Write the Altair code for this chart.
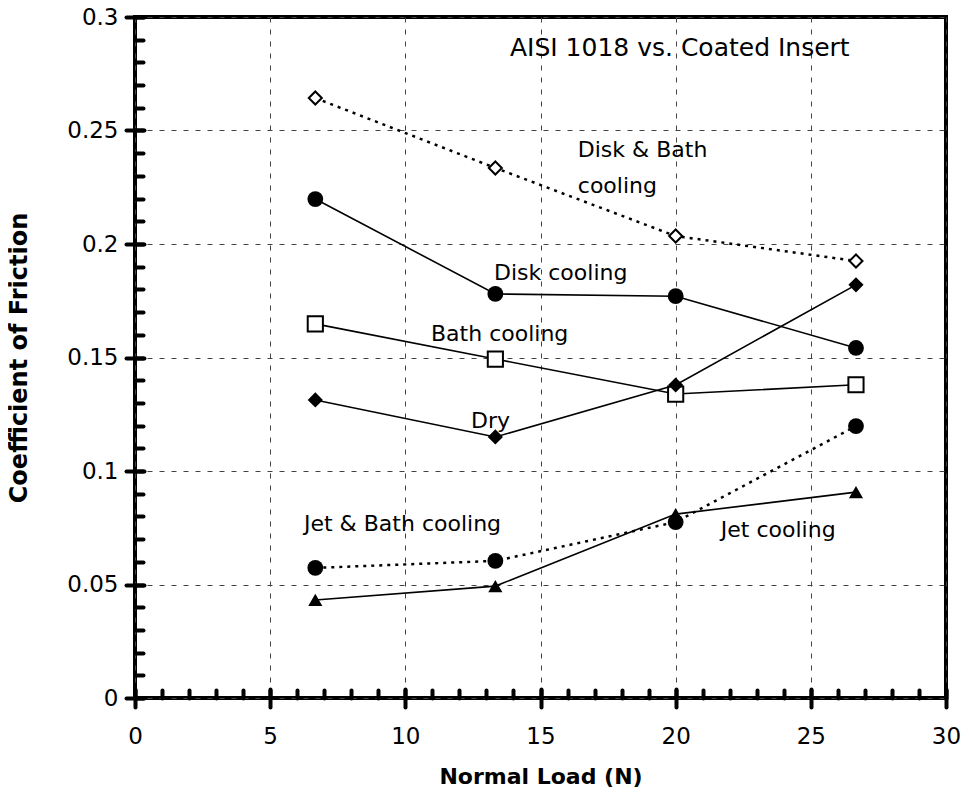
import altair as alt
import pandas as pd

# ---- data ----
loads = [6.67, 13.33, 20.0, 26.67]
disk_bath = [0.2643, 0.2335, 0.2035, 0.1925]
disk = [0.2198, 0.178, 0.177, 0.1542]
bath = [0.1648, 0.1493, 0.1339, 0.138]
dry = [0.1313, 0.115, 0.1379, 0.182]
jet_bath = [0.0573, 0.0604, 0.0775, 0.1198]
jet = [0.0432, 0.0493, 0.081, 0.0907]

series_names = ["Disk & Bath cooling", "Disk cooling", "Bath cooling", "Dry",
                "Jet & Bath cooling", "Jet cooling"]
series_values = [disk_bath, disk, bath, dry, jet_bath, jet]

title_text = ["AISI 1018 vs. Coated Insert"]
title_x = [13.87]
title_y = [0.2863]

ann_text = ["Disk & Bath", "cooling", "Disk cooling",
            "Bath cooling", "Dry", "Jet & Bath cooling", "Jet cooling"]
ann_x = [16.38, 16.38, 13.28, 10.95, 12.43, 6.25, 21.67]
ann_y = [0.2414, 0.2256, 0.1872, 0.1604, 0.122, 0.0767, 0.074]

x_major = [0, 5, 10, 15, 20, 25, 30]
y_major = [0, 0.05, 0.1, 0.15, 0.2, 0.25, 0.3]
x_minor = list(range(0, 31))
y_minor = [round(i * 0.01, 2) for i in range(0, 31)]

# ---- styles ----
styles = {
    "Disk & Bath cooling": dict(shape="diamond", filled=False, size=170, dash=[3, 5], lw=2.5),
    "Disk cooling": dict(shape="circle", filled=True, size=250, dash=None, lw=1.6),
    "Bath cooling": dict(shape="square", filled=False, size=230, dash=None, lw=1.6),
    "Dry": dict(shape="diamond", filled=True, size=230, dash=None, lw=1.6),
    "Jet & Bath cooling": dict(shape="circle", filled=True, size=250, dash=[3, 5], lw=2.5),
    "Jet cooling": dict(shape="triangle-up", filled=True, size=200, dash=None, lw=1.6),
}

rows = []
for name, vals in zip(series_names, series_values):
    for x, y in zip(loads, vals):
        rows.append({"series": name, "load": x, "cof": y})
df = pd.DataFrame(rows)
ann_df = pd.DataFrame({"text": ann_text, "x": ann_x, "y": ann_y})
title_df = pd.DataFrame({"text": title_text, "x": title_x, "y": title_y})

FONT = "DejaVu Sans"
xscale = alt.Scale(domain=[0, 30], nice=False, zero=False)
yscale = alt.Scale(domain=[0, 0.3], nice=False, zero=False)

base = alt.Chart(df)

# grid layer
grid_layer = base.mark_point(opacity=0).encode(
    x=alt.X("load:Q", scale=xscale, axis=alt.Axis(
        orient="bottom", values=x_major, grid=True, ticks=False, labels=False,
        domain=False, title=None, gridDash=[5, 7], gridColor="#444", gridWidth=1)),
    y=alt.Y("cof:Q", scale=yscale, axis=alt.Axis(
        orient="left", values=y_major, grid=True, ticks=False, labels=False,
        domain=False, title=None, gridDash=[5, 7], gridColor="#444", gridWidth=1)),
)

# minor ticks layer (inward)
minor_layer = base.mark_point(opacity=0).encode(
    x=alt.X("load:Q", scale=xscale, axis=alt.Axis(
        orient="bottom", values=x_minor, grid=False, labels=False, domain=False,
        title=None, ticks=True, tickSize=8, offset=-8, tickWidth=4, tickCap="round",
        tickColor="black")),
    y=alt.Y("cof:Q", scale=yscale, axis=alt.Axis(
        orient="left", values=y_minor, grid=False, labels=False, domain=False,
        title=None, ticks=True, tickSize=8, offset=-8, tickWidth=4, tickCap="round",
        tickColor="black")),
)

# major ticks + labels + titles
major_layer = base.mark_point(opacity=0).encode(
    x=alt.X("load:Q", scale=xscale, axis=alt.Axis(
        orient="bottom", values=x_major, grid=False, domain=False, format="d",
        ticks=True, tickSize=18, offset=-9, tickWidth=4, tickCap="round", tickColor="black",
        labelFont=FONT, labelFontSize=23, labelColor="black", labelPadding=18,
        labelFlush=False,
        title="Normal Load (N)", titleFont=FONT, titleFontSize=22, titleFontWeight="bold",
        titleColor="black", titlePadding=18)),
    y=alt.Y("cof:Q", scale=yscale, axis=alt.Axis(
        orient="left", values=y_major, grid=False, domain=False, format="~g",
        ticks=True, tickSize=18, offset=-9, tickWidth=4, tickCap="round", tickColor="black",
        labelFont=FONT, labelFontSize=23, labelColor="black", labelPadding=8,
        labelFlush=False,
        title="Coefficient of Friction", titleFont=FONT, titleFontSize=24,
        titleFontWeight="bold", titleColor="black", titlePadding=35)),
)

layers = [grid_layer, minor_layer, major_layer]

for name in series_names:
    st = styles[name]
    sub = base.transform_filter(alt.datum.series == name)
    line_kwargs = dict(color="black", strokeWidth=st["lw"])
    if st["dash"]:
        line_kwargs["strokeDash"] = st["dash"]
    line = sub.mark_line(**line_kwargs).encode(
        x=alt.X("load:Q", scale=xscale, axis=None),
        y=alt.Y("cof:Q", scale=yscale, axis=None),
    )
    pt_kwargs = dict(shape=st["shape"], size=st["size"], filled=st["filled"],
                     color="black", opacity=1, strokeWidth=2)
    if not st["filled"]:
        pt_kwargs["fill"] = "white"
        pt_kwargs["fillOpacity"] = 1
    pts = sub.mark_point(**pt_kwargs).encode(
        x=alt.X("load:Q", scale=xscale, axis=None),
        y=alt.Y("cof:Q", scale=yscale, axis=None),
    )
    layers += [line, pts]

text_layer = alt.Chart(ann_df).mark_text(
    align="left", baseline="middle", font=FONT, fontSize=22, color="black"
).encode(
    x=alt.X("x:Q", scale=xscale, axis=None),
    y=alt.Y("y:Q", scale=yscale, axis=None),
    text="text:N",
)
title_layer = alt.Chart(title_df).mark_text(
    align="left", baseline="middle", font=FONT, fontSize=25, color="black"
).encode(
    x=alt.X("x:Q", scale=xscale, axis=None),
    y=alt.Y("y:Q", scale=yscale, axis=None),
    text="text:N",
)
layers += [text_layer, title_layer]

chart = alt.layer(*layers).resolve_axis(x="independent", y="independent").properties(
    width=811, height=681,
    background="white",
    autosize=alt.AutoSizeParams(type="none"),
    padding={"left": 127, "top": 9, "right": 15, "bottom": 95},
).configure_view(stroke="black", strokeWidth=4)

chart.save("out.html", embed_options={"renderer": "svg", "actions": False})
